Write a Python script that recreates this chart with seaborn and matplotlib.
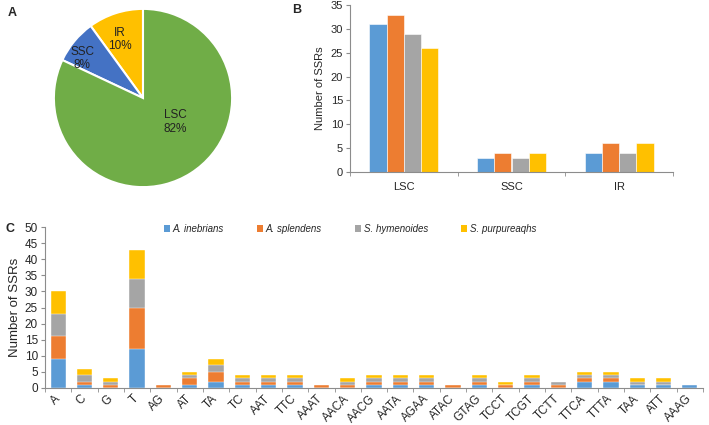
import matplotlib
matplotlib.use("Agg")
import matplotlib.pyplot as plt
import seaborn as sns
import pandas as pd
import numpy as np
from matplotlib.patches import Patch
from matplotlib.ticker import FixedLocator

sns.set_style("white")
plt.rcParams['font.family'] = ['Liberation Sans', 'DejaVu Sans']

# ---- data ----
pie_labels = ["IR", "SSC", "LSC"]
pie_values = [10, 8, 82]
pie_colors = ["#FFC000", "#4472C4", "#70AD47"]

regions = ["LSC", "SSC", "IR"]
species = ["A. inebrians", "A. splendens", "S. hymenoides", "S. purpureaqhs"]
sp_colors = ["#5B9BD5", "#ED7D31", "#A5A5A5", "#FFC000"]
b_inebrians = [31, 3, 4]
b_splendens = [33, 4, 6]
b_hymenoides = [29, 3, 4]
b_purpureaqhs = [26, 4, 6]

motifs = ["A", "C", "G", "T", "AG", "AT", "TA", "TC", "AAT", "TTC", "AAAT", "AACA",
          "AACG", "AATA", "AGAA", "ATAC", "GTAG", "TCCT", "TCGT", "TCTT", "TTCA",
          "TTTA", "TAA", "ATT", "AAAG"]
c_inebrians = [9, 1, 0, 12, 0, 1, 2, 1, 1, 1, 0, 0, 1, 1, 1, 0, 1, 0, 1, 0, 2, 2, 1, 1, 1]
c_splendens = [7, 1, 1, 13, 1, 2, 3, 1, 1, 1, 1, 1, 1, 1, 1, 1, 1, 1, 1, 1, 1, 1, 0, 0, 0]
c_hymenoides = [7, 2, 1, 9, 0, 1, 2, 1, 1, 1, 0, 1, 1, 1, 1, 0, 1, 0, 1, 1, 1, 1, 1, 1, 0]
c_purpureaqhs = [7, 2, 1, 9, 0, 1, 2, 1, 1, 1, 0, 1, 1, 1, 1, 0, 1, 1, 1, 0, 1, 1, 1, 1, 0]

W, H = 709, 425
fig = plt.figure(figsize=(W / 100, H / 100), dpi=100)
FS = 8
axis_col = "#8C8C8C"

def style_axes(ax):
    for s in ["top", "right"]:
        ax.spines[s].set_visible(False)
    for s in ["left", "bottom"]:
        ax.spines[s].set_color(axis_col)
        ax.spines[s].set_linewidth(0.8)
    ax.tick_params(axis="y", which="major", left=True, length=3, color=axis_col,
                   labelsize=FS, pad=2)
    ax.tick_params(axis="x", which="major", bottom=False, labelsize=FS)
    ax.tick_params(axis="x", which="minor", bottom=True, length=3, color=axis_col)

# ---- Panel A: pie ----
axA = fig.add_axes([53 / W, 1 - 188 / H, 180 / W, 180 / H])
wedges, _ = axA.pie(pie_values, colors=pie_colors, startangle=90, counterclock=True,
                    radius=1.0, wedgeprops=dict(edgecolor="white", linewidth=1.5))
axA.set_xlim(-1.01, 1.01)
axA.set_ylim(-1.01, 1.01)
axA.set_aspect("equal")
label_pos = {"IR": (-0.26, 0.66), "SSC": (-0.68, 0.44), "LSC": (0.36, -0.27)}
for lab, val in zip(pie_labels, pie_values):
    x, y = label_pos[lab]
    axA.text(x, y, f"{lab}\n{val}%", ha="center", va="center", fontsize=FS + 0.5,
             color="#222222", linespacing=1.15)

# ---- Panel B ----
axB = fig.add_axes([350 / W, 1 - 172 / H, 323 / W, 167 / H])
df_b = pd.DataFrame({
    "region": regions * 4,
    "species": sum([[s] * 3 for s in species], []),
    "count": b_inebrians + b_splendens + b_hymenoides + b_purpureaqhs,
})
sns.barplot(data=df_b, x="region", y="count", hue="species", hue_order=species,
            order=regions, palette=sp_colors, saturation=1, width=0.64, ax=axB,
            legend=False, edgecolor="white", linewidth=0.4)
axB.set_xlim(-0.5, 2.5)
axB.set_ylim(0, 35)
axB.set_yticks(range(0, 36, 5))
axB.set_xlabel("")
axB.set_ylabel("Number of SSRs", fontsize=FS)
axB.xaxis.set_minor_locator(FixedLocator([-0.5, 0.5, 1.5, 2.5]))
style_axes(axB)
axB.tick_params(axis="x", which="major", pad=4)

# ---- Panel C ----
axC = fig.add_axes([45 / W, 1 - 388 / H, 658 / W, 161 / H])
layers = [c_inebrians, c_splendens, c_hymenoides, c_purpureaqhs]
cum = np.cumsum(np.array(layers), axis=0)
for i in range(3, -1, -1):
    sns.barplot(x=motifs, y=cum[i], order=motifs, color=sp_colors[i], saturation=1,
                width=0.58, ax=axC, edgecolor="white", linewidth=0.3)
axC.set_xlim(-0.5, len(motifs) - 0.5)
axC.set_ylim(0, 50)
axC.set_yticks(range(0, 51, 5))
axC.set_xlabel("")
axC.set_ylabel("Number of SSRs", fontsize=FS + 1.5, labelpad=3)
axC.xaxis.set_minor_locator(FixedLocator(np.arange(-0.5, len(motifs), 1.0)))
style_axes(axC)
axC.tick_params(axis="y", labelsize=FS + 0.5)
axC.tick_params(axis="x", which="major", pad=3)
for t in axC.get_xticklabels():
    t.set_rotation(45)
    t.set_ha("right")
    t.set_va("center")
    t.set_rotation_mode("anchor")
    t.set_fontsize(FS + 0.5)

handles = [Patch(facecolor=c, edgecolor="none") for c in sp_colors]
fig.legend(handles, species, loc="center", bbox_to_anchor=(0.494, 1 - 229 / H),
           ncol=4, frameon=False, prop=dict(style="italic", size=7),
           handlelength=0.6, handleheight=0.6, handletextpad=0.3,
           columnspacing=3.4)

# panel letters
fig.text(8 / W, 1 - 13 / H, "A", fontsize=9, fontweight="bold", va="center")
fig.text(292 / W, 1 - 10 / H, "B", fontsize=9, fontweight="bold", va="center")
fig.text(5 / W, 1 - 229 / H, "C", fontsize=9, fontweight="bold", va="center")

fig.savefig("out.png", dpi=100)
